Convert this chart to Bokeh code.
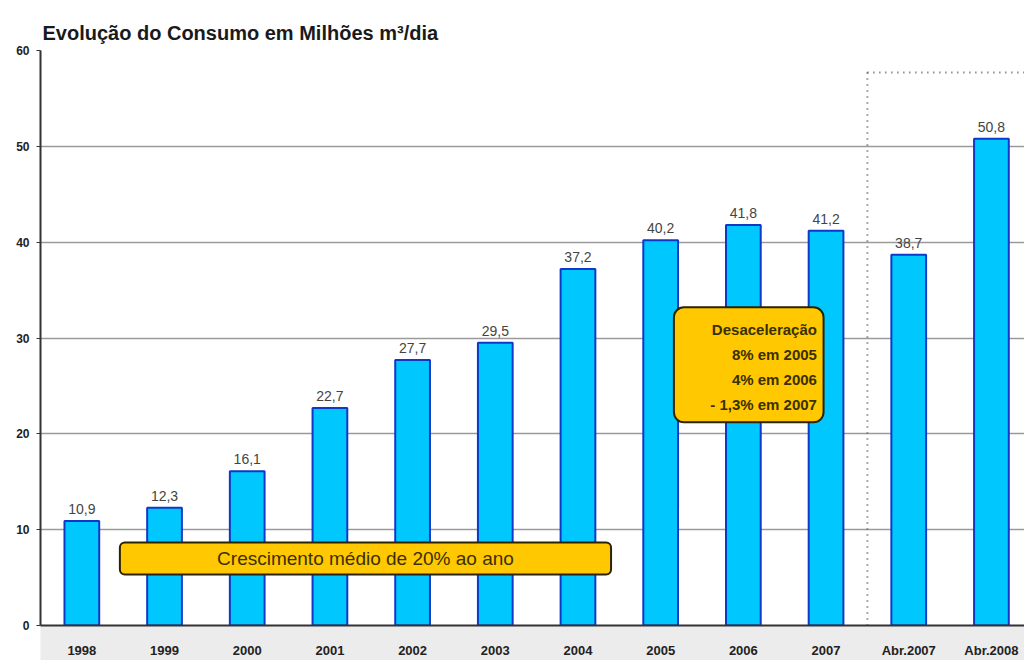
from bokeh.plotting import figure
from bokeh.models import Range1d, FixedTicker, ColumnDataSource, BoxAnnotation, Label
from bokeh.core.properties import value
from bokeh.embed import file_html
from bokeh.resources import INLINE

categories = ["1998", "1999", "2000", "2001", "2002", "2003", "2004",
              "2005", "2006", "2007", "Abr.2007", "Abr.2008"]
consumo = [10.9, 12.3, 16.1, 22.7, 27.7, 29.5, 37.2, 40.2, 41.8, 41.2, 38.7, 50.8]
y_ticks = [0, 10, 20, 30, 40, 50, 60]
nota_crescimento = "Crescimento médio de 20% ao ano"
nota_desaceleracao = ["Desaceleração", "8% em 2005", "4% em 2006", "- 1,3% em 2007"]

FONT = "Liberation Sans"

xs = list(range(len(categories)))
labels = [f"{v:.1f}".replace(".", ",") for v in consumo]
src = ColumnDataSource(dict(x=xs, y=consumo, lab=labels))

p = figure(width=1024, height=660, output_backend="svg", toolbar_location=None,
           x_range=Range1d(-0.5, 11.40), y_range=Range1d(0, 60),
           min_border_left=40, min_border_right=0, min_border_top=50, min_border_bottom=35)

p.title.text = "Evolução do Consumo em Milhões m³/dia"
p.title.text_font = FONT
p.title.text_font_size = "20px"
p.title.text_font_style = "bold"
p.title.text_color = "#1a1a1a"
p.title.align = "left"
p.title.offset = 2
p.title.standoff = 14

p.outline_line_color = None
p.background_fill_color = "white"

p.xgrid.grid_line_color = None
p.ygrid.ticker = FixedTicker(ticks=y_ticks)
p.ygrid.grid_line_color = "#9a9a9a"
p.ygrid.grid_line_width = 1.5

p.yaxis.ticker = FixedTicker(ticks=y_ticks)
p.yaxis.axis_line_color = "#333333"
p.yaxis.axis_line_width = 2
p.yaxis.major_tick_out = 4
p.yaxis.major_tick_in = 0
p.yaxis.major_tick_line_color = "#333333"
p.yaxis.minor_tick_line_color = None
p.yaxis.major_label_text_font = FONT
p.yaxis.major_label_text_font_size = "12px"
p.yaxis.major_label_text_font_style = "bold"
p.yaxis.major_label_text_color = "#222222"
p.yaxis.major_label_standoff = 7

p.xaxis.ticker = FixedTicker(ticks=xs)
p.xaxis.major_label_overrides = {i: c for i, c in enumerate(categories)}
p.xaxis.axis_line_color = "#333333"
p.xaxis.axis_line_width = 2
p.xaxis.major_tick_line_color = None
p.xaxis.minor_tick_line_color = None
p.xaxis.major_label_text_font = FONT
p.xaxis.major_label_text_font_size = "13px"
p.xaxis.major_label_text_font_style = "bold"
p.xaxis.major_label_text_color = "#222222"
p.xaxis.major_label_standoff = 11
p.xaxis.background_fill_color = "#ececec"

p.vbar(x="x", top="y", width=0.42, source=src, fill_color="#00C8FF",
       line_color="#1038C8", line_width=2)
p.text(x="x", y="y", text="lab", source=src, text_align="center", text_baseline="bottom",
       y_offset=-7, text_font=value(FONT), text_font_size="14px", text_color="#444444")

# dotted separator
p.segment(x0=[9.5, 9.5], y0=[0, 57.7], x1=[9.5, 11.40], y1=[57.7, 57.7],
          line_color="#555555", line_width=2, line_dash="1 5")

# annotation boxes
p.add_layout(BoxAnnotation(left=0.46, right=6.40, bottom=5.32, top=8.66,
                           fill_color="#FFC800", fill_alpha=1, line_color="#2a2200",
                           line_alpha=1, line_width=2, border_radius=5))
p.add_layout(Label(x=3.43, y=7.0, text=nota_crescimento, text_align="center",
                   text_baseline="middle", text_font=FONT, text_font_size="19px",
                   text_color="#3a3000"))

p.add_layout(BoxAnnotation(left=7.16, right=8.97, bottom=21.2, top=33.2,
                           fill_color="#FFC800", fill_alpha=1, line_color="#2a2200",
                           line_alpha=1, line_width=2, border_radius=10))
for i, t in enumerate(nota_desaceleracao):
    p.add_layout(Label(x=8.89, y=30.9 - i * 2.6, text=t, text_align="right",
                       text_baseline="middle", text_font=FONT, text_font_size="15px",
                       text_font_style="bold", text_color="#3a3000"))

open("out.html", "w").write(file_html(p, INLINE))
